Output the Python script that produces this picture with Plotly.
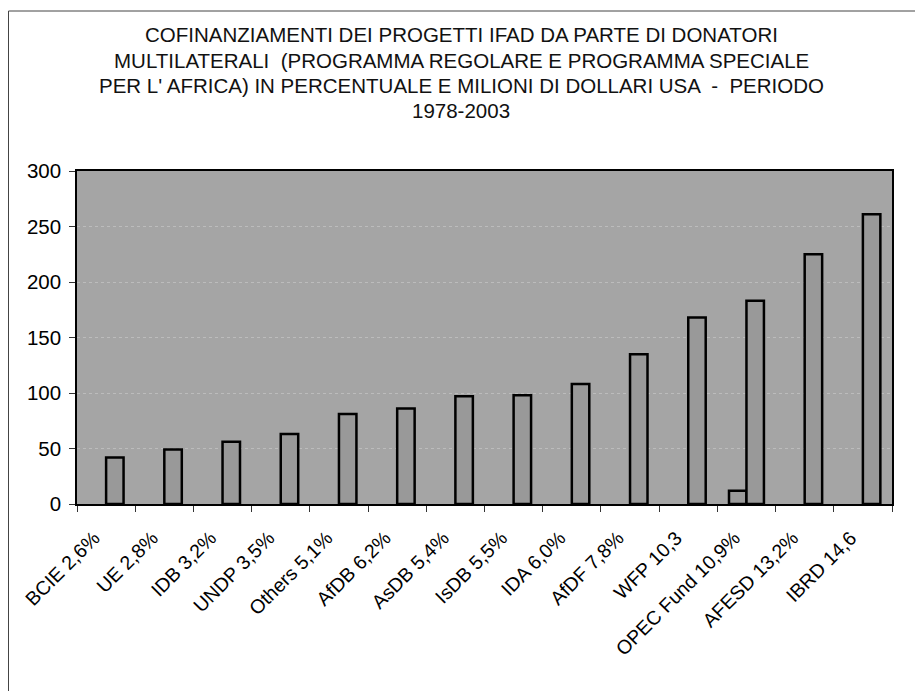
import plotly.graph_objects as go

categories = ["BCIE 2,6%", "UE 2,8%", "IDB 3,2%", "UNDP 3,5%", "Others 5,1%", "AfDB 6,2%",
              "AsDB 5,4%", "IsDB 5,5%", "IDA 6,0%", "AfDF 7,8%", "WFP 10,3",
              "OPEC Fund 10,9%", "AFESD 13,2%", "IBRD 14,6"]
secondary_values = [None, None, None, None, None, None, None, None, None, None, None,
                    12, None, None]
main_values = [42, 49, 56, 63, 81, 86, 97, 98, 108, 135, 168, 183, 225, 261]
y_ticks = [0, 50, 100, 150, 200, 250, 300]

title_lines = [
    "COFINANZIAMENTI DEI PROGETTI IFAD DA PARTE DI DONATORI",
    "MULTILATERALI  (PROGRAMMA REGOLARE E PROGRAMMA SPECIALE",
    "PER L' AFRICA) IN PERCENTUALE E MILIONI DI DOLLARI USA  -  PERIODO",
    "1978-2003",
]

# the page has an 8px body margin on every side, so the figure is sized to fit
# inside the window without scrollbars and offset accordingly
W, H = 907, 683
ML, MR, MT, MB = 69, 23, 163, 187
FONT = "Liberation Sans, Arial, sans-serif"
pw = W - ML - MR
ph = H - MT - MB


def px_x(x):
    return (x - ML) / pw


def px_y(y):
    return 1 + (MT - y) / ph


fig = go.Figure()
fig.add_trace(go.Bar(x=categories, y=secondary_values, name="s1",
                     marker=dict(color="#9a9a9a", line=dict(color="black", width=2.5))))
fig.add_trace(go.Bar(x=categories, y=main_values, name="s2",
                     marker=dict(color="#999999", line=dict(color="black", width=2.5))))

annotations = []
title_centers = [27, 52, 77, 102]
for line, yc in zip(title_lines, title_centers):
    annotations.append(dict(text=line, xref="paper", yref="paper",
                            x=px_x(453), y=px_y(yc), xanchor="center", yanchor="middle",
                            showarrow=False, font=dict(family=FONT, size=20.5, color="#111111")))

frame_path = "M {x1},{y0} L {x0},{y0} L {x0},{y1}".format(
    x0=px_x(0.5), y0=px_y(3), x1=px_x(W + 5), y1=px_y(H + 5))

fig.update_layout(
    width=W, height=H,
    margin=dict(l=ML, r=MR, t=MT, b=MB, pad=0),
    paper_bgcolor="white",
    plot_bgcolor="#a5a5a5",
    barmode="group",
    bargap=0.4,
    bargroupgap=0,
    showlegend=False,
    font=dict(family=FONT, color="black", size=19),
    annotations=annotations,
    xaxis=dict(type="category", tickangle=-45, ticks="outside", tickson="boundaries",
               ticklen=6, tickcolor="#333", showline=True, linecolor="black", linewidth=2,
               mirror=True, tickfont=dict(size=19.5), showgrid=False,
               ticklabelstandoff=13, ticklabelshift=-12),
    yaxis=dict(range=[0, 300], tickvals=y_ticks, ticks="outside", ticklen=6, tickcolor="#333",
               showline=True, linecolor="black", linewidth=1.5, mirror=True,
               gridcolor="#bcbcbc", griddash="dot", gridwidth=1, zeroline=False,
               tickfont=dict(size=20.5), ticklabelstandoff=4),
    shapes=[dict(type="path", xref="paper", yref="paper", path=frame_path,
                 line=dict(color="#444", width=1), layer="below")],
)

fig.write_html("out.html")
